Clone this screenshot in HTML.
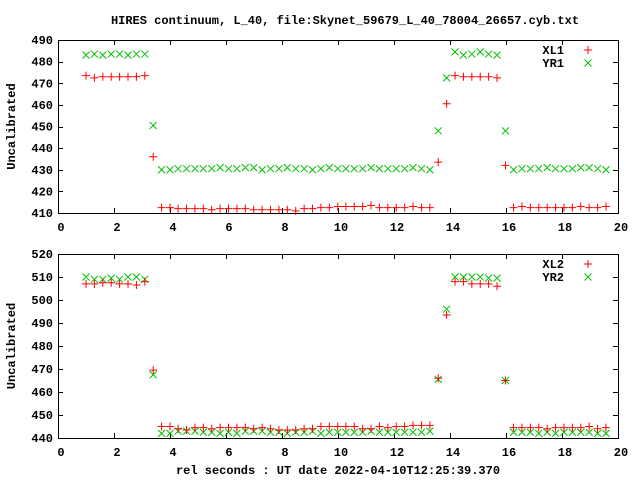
<!DOCTYPE html>
<html><head><meta charset="utf-8"><style>
html,body{margin:0;padding:0;background:#fff;}
svg text{font-family:"Liberation Mono","DejaVu Sans Mono",monospace;font-weight:bold;font-size:12px;fill:#000;}
</style></head><body>
<svg id="chart" width="640" height="480" xmlns="http://www.w3.org/2000/svg">
<text x="345" y="24" text-anchor="middle">HIRES continuum, L_40, file:Skynet_59679_L_40_78004_26657.cyb.txt</text>
<text x="338" y="474" text-anchor="middle">rel seconds : UT date 2022-04-10T12:25:39.370</text>
<g id="g"></g>
</svg>
<script>
const times=[1.00,1.30,1.60,1.90,2.20,2.50,2.80,3.10,3.40,3.70,4.00,4.29,4.59,4.89,5.19,5.49,5.79,6.09,6.39,6.69,6.99,7.29,7.59,7.89,8.19,8.49,8.79,9.09,9.39,9.69,9.99,10.28,10.58,10.88,11.18,11.48,11.78,12.08,12.38,12.68,12.98,13.28,13.58,13.88,14.18,14.48,14.78,15.08,15.38,15.68,15.98,16.27,16.57,16.87,17.17,17.47,17.77,18.07,18.37,18.67,18.97,19.27,19.57];
const xl1=[473.5,472.5,473,473,473,473,473,473.5,436,
412.5,412.5,412,412,412,412,411.5,412,412,412,412,411.5,411.5,411.5,411.5,411.5,411,412,412,412.5,412.5,413,413,413,413,413.5,412.5,412.5,412.5,412.5,413,412.5,412.5,
433.5,460.5,473.5,473,473,473,473,472.5,432,
412.5,413,412.5,412.5,412.5,412.5,412.5,412.5,413,412.5,412.5,413,412.5];
const yr1=[483,483.5,483,483.5,483.5,483,483.5,483.5,450.5,
430,430,430.5,430.5,430.5,430.5,430.5,431,430.5,430.5,431,431,430,430.5,430.5,431,430.5,430.5,430,430.5,431,430.5,430.5,430.5,430.5,431,430.5,430.5,430.5,430.5,431,430.5,430,
448,472.5,484.5,483,483.5,484.5,483.5,483,448,
430,430.5,430.5,430.5,431,430.5,430.5,430.5,431,431,430.5,430];
const xl2=[507,507,507.5,507.5,507,507,506.5,508,469.5,
445,445,444,443.5,444.5,444.5,444,444.5,444.5,444.5,444.5,444,444.5,444,443.5,443.5,443.5,444,444,445,445,445,445,445,444,444,445,444.5,445,445,445.5,445.5,445.5,
466,493.5,508,508,507,507,507,506,465,
444.5,444.5,444.5,444.5,444,444.5,444.5,444.5,444.5,445,444,444.5];
const yr2=[510,509,509,509.5,509,510,510,509,467.5,
442,442,443,443,443,442.5,442.5,442,442.5,442,443,443,443,442.5,442.5,442,442.5,442.5,443,442,442.5,442.5,442.5,442.5,442.5,443,442.5,442.5,442.5,442.5,442.5,442.5,443,
465.5,496,510,510,510,510,509.5,509.5,465,
442.5,442.5,442.5,442,442.5,442,442.5,442.5,442.5,442.5,442,442];
const xTicks=[0,2,4,6,8,10,12,14,16,18,20];
const yTicks1=[410,420,430,440,450,460,470,480,490];
const yTicks2=[440,450,460,470,480,490,500,510,520];
const NS="http://www.w3.org/2000/svg";
const g=document.getElementById('g');
function mk(t,a){const e=document.createElementNS(NS,t);for(const k in a)e.setAttribute(k,a[k]);g.appendChild(e);return e;}
function panel(top,bot,ymin,ymax,yTicks,s1,s2,n1,n2,pid){
 const L=58,R=618;
 const sx=v=>L+(v-0)/(20-0)*(R-L);
 const sy=v=>bot-(v-ymin)/(ymax-ymin)*(bot-top);
 const f=mk('rect',{x:L+0.5,y:top+0.5,width:R-L,height:bot-top,fill:'none',stroke:'#000','stroke-width':1});
 
 
 xTicks.forEach(t=>{const x=Math.round(sx(t))+0.5;
  const a=mk('path',{d:`M${x} ${bot}v-5M${x} ${top}v5`,stroke:'#000','stroke-width':1});
  
  
  const l=mk('text',{x:sx(t)+3,y:bot+18,'text-anchor':'middle'});l.textContent=t;
  
  
 });
 yTicks.forEach(t=>{const y=Math.round(sy(t))+0.5;
  const a=mk('path',{d:`M${L} ${y}h5M${R} ${y}h-5`,stroke:'#000','stroke-width':1});
  
  
  const l=mk('text',{x:53,y:sy(t)+4,'text-anchor':'end'});l.textContent=t;
  
  
 });
 const yl=mk('text',{x:15,y:(top+bot)/2,'text-anchor':'middle',transform:`rotate(-90 15 ${(top+bot)/2})`});
 yl.textContent='Uncalibrated';
 
 
 const plus=(x,y)=>`M${x-4} ${y}h8M${x} ${y-4}v8`;
 const cross=(x,y)=>`M${x-3.5} ${y-3.5}l7 7M${x-3.5} ${y+3.5}l7 -7`;
 let d1='',d2='';
 times.forEach((t,i)=>{d2+=cross(sx(t),sy(s2[i]));});
 times.forEach((t,i)=>{d1+=plus(sx(t),sy(s1[i]));});
 const p2=mk('path',{d:d2,stroke:'#00c000','stroke-width':1,fill:'none'});
 
 
 const p1=mk('path',{d:d1,stroke:'#ff0000','stroke-width':1,fill:'none'});
 
 
 const t1=mk('text',{x:564,y:top+14,'text-anchor':'end'});t1.textContent=n1;
 
 
 const t2=mk('text',{x:564,y:top+27,'text-anchor':'end'});t2.textContent=n2;
 
 
 const m1=mk('path',{d:plus(588,top+10),stroke:'#ff0000','stroke-width':1});
 
 
 const m2=mk('path',{d:cross(588,top+23),stroke:'#00c000','stroke-width':1});
 
 
}
panel(40,213,410,490,yTicks1,xl1,yr1,'XL1','YR1','top');
panel(254,438,440,520,yTicks2,xl2,yr2,'XL2','YR2','bottom');
</script>
</body></html>
